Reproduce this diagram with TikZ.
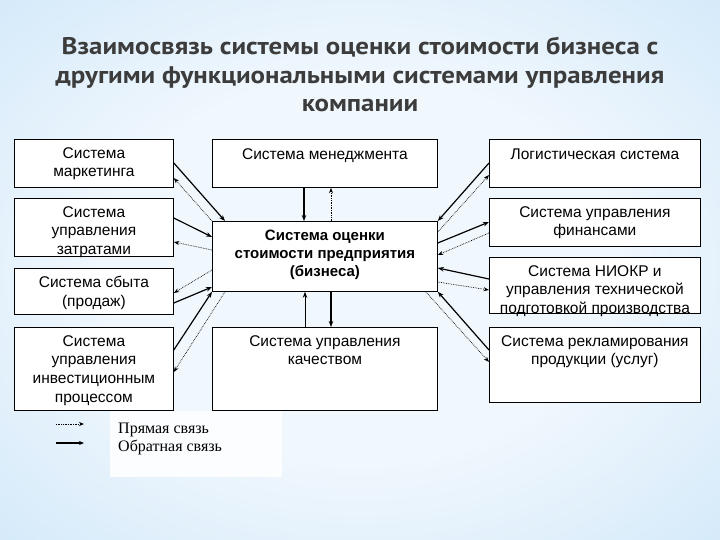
\documentclass[tikz,border=0pt]{standalone}
\usepackage{fontspec}
\setmainfont{Liberation Sans}
\newfontfamily\titlefont[FakeStretch=1.12]{PT Sans}
\newfontfamily\serifru{Liberation Serif}
\usetikzlibrary{arrows.meta}
\definecolor{bgout}{RGB}{130,188,236}
\definecolor{bgmid}{RGB}{198,227,248}
\definecolor{bgin}{RGB}{240,247,253}
\definecolor{titlegray}{RGB}{60,60,60}
\pgfdeclareradialshading{glow}{\pgfpoint{0bp}{0bp}}{color(0bp)=(bgin); color(18bp)=(bgin); color(45bp)=(bgmid); color(72bp)=(bgout)}
\begin{document}
\begin{tikzpicture}[x=1pt,y=-1pt,
  box/.style={draw=black, line width=0.8pt, fill=white, anchor=north west, inner sep=0pt},
  lbl/.style={font=\fontsize{15.5}{18.8}\selectfont, align=center, anchor=north, inner sep=0pt, execute at begin node=\rule{0pt}{12pt}},
  lblb/.style={lbl, font=\bfseries\fontsize{15}{18}\selectfont},
  fb/.style={line width=1.2pt, -{Stealth[length=6pt,width=4.5pt]}},
  fbthin/.style={line width=0.8pt, -{Stealth[length=6pt,width=4.5pt]}},
  dr/.style={line width=0.7pt, densely dotted, -{Stealth[length=5.5pt,width=4pt]}},
  legtxt/.style={font=\serifru\fontsize{16}{18}\selectfont, anchor=base west, inner sep=0pt}
]
\useasboundingbox (0,0) rectangle (720,540);
\shade[shading=glow] (0,0) rectangle (720,540);

% title
\node[font=\titlefont\bfseries\fontsize{24}{28.5}\selectfont, text=titlegray, align=center, anchor=north, inner sep=0pt,
  execute at begin node=\rule{0pt}{19pt}] (title) at (360,37)
  {Взаимосвязь системы оценки стоимости бизнеса с\\другими функциональными системами управления\\компании};

% boxes
\node[box, minimum width=159pt, minimum height=48pt] (mk) at (14,139) {};
\node[box, minimum width=159pt, minimum height=58pt] (zt) at (14,198) {};
\node[box, minimum width=159pt, minimum height=46pt] (sb) at (14,268) {};
\node[box, minimum width=159pt, minimum height=83pt] (iv) at (14,327) {};
\node[box, minimum width=225pt, minimum height=48pt] (mg) at (212,139) {};
\node[box, minimum width=225pt, minimum height=70pt] (ce) at (212,221) {};
\node[box, minimum width=225pt, minimum height=83pt] (kc) at (212,327) {};
\node[box, minimum width=211pt, minimum height=48pt] (lg) at (489,139) {};
\node[box, minimum width=211pt, minimum height=48pt] (fn) at (489,198) {};
\node[box, minimum width=211pt, minimum height=56pt] (nk) at (489,257) {};
\node[box, minimum width=211pt, minimum height=75pt] (rk) at (489,327) {};

% labels
\node[lbl] (mkt) at ([yshift=-8pt]mk.north) {Система\\маркетинга};
\node[lbl] (ztt) at ([yshift=-8pt]zt.north) {Система\\управления\\затратами};
\node[lbl] (sbt) at ([yshift=-8pt]sb.north) {Система сбыта\\(продаж)};
\node[lbl] (ivt) at ([yshift=-8pt]iv.north) {Система\\управления\\инвестиционным\\процессом};
\node[lbl] (mgt) at ([yshift=-8pt]mg.north) {Система менеджмента};
\node[lblb] (cet) at ([yshift=-9pt]ce.north) {Система оценки\\стоимости предприятия\\(бизнеса)};
\node[lbl] (kct) at ([yshift=-8pt]kc.north) {Система управления\\качеством};
\node[lbl] (lgt) at ([yshift=-8pt]lg.north) {Логистическая система};
\node[lbl] (fnt) at ([yshift=-8pt]fn.north) {Система управления\\финансами};
\node[lbl] (nkt) at ([yshift=-8pt]nk.north) {Система НИОКР и\\управления технической\\подготовкой производства};
\node[lbl] (rkt) at ([yshift=-8pt]rk.north) {Система рекламирования\\продукции (услуг)};

% left connectors
\draw[fb] ([yshift=-24pt]mk.north east) -- ([xshift=13pt]ce.north west);
\draw[dr] (ce.north west) -- ([yshift=-39pt]mk.north east);
\draw[fb] ([yshift=-20pt]zt.north east) -- ([yshift=-16pt]ce.north west);
\draw[dr] ([yshift=-29pt]ce.north west) -- ([yshift=-44pt]zt.north east);
\draw[dr] ([yshift=-49pt]ce.north west) -- ([yshift=-25pt]sb.north east);
\draw[fb] ([yshift=-35pt]sb.north east) -- ([yshift=-66pt]ce.north west);
\draw[fb] ([yshift=-23pt]iv.north east) -- (ce.south west);
\draw[dr] ([xshift=13pt]ce.south west) -- ([yshift=-45pt]iv.north east);
% top / bottom
\draw[fb] ([xshift=92pt]mg.south west) -- ([xshift=92pt]ce.north west);
\draw[dr] ([xshift=119pt]ce.north west) -- ([xshift=119pt]mg.south west);
\draw[fbthin] ([xshift=93pt]kc.north west) -- ([xshift=93pt]ce.south west);
\draw[fb] ([xshift=119pt]ce.south west) -- ([xshift=119pt]kc.north west);
% right connectors
\draw[fb] ([yshift=-24pt]lg.north west) -- (ce.north east);
\draw[dr] ([yshift=-11pt]ce.north east) -- ([yshift=-36pt]lg.north west);
\draw[fb] ([yshift=-22pt]ce.north east) -- ([yshift=-24pt]fn.north west);
\draw[dr] ([yshift=-35pt]fn.north west) -- ([yshift=-34pt]ce.north east);
\draw[fb] ([yshift=-22pt]nk.north west) -- ([yshift=-47pt]ce.north east);
\draw[dr] ([yshift=-61pt]ce.north east) -- ([yshift=-33pt]nk.north west);
\draw[fb] ([yshift=-23pt]rk.north west) -- (ce.south east);
\draw[dr] ([xshift=-12pt]ce.south east) -- ([yshift=-35pt]rk.north west);

% legend
\node[fill=white, fill opacity=0.85, minimum width=172pt, minimum height=66pt, anchor=north west, inner sep=0pt] (legbg) at (110,411) {};
\coordinate (l1a) at (56,424);
\coordinate (l1b) at (84,424);
\coordinate (l2a) at (56,443);
\coordinate (l2b) at (84,443);
\draw[line width=0.7pt, densely dotted, -{Stealth[length=5pt,width=4pt]}] (l1a) -- (l1b);
\draw[line width=1.2pt, -{Stealth[length=5pt,width=4pt]}] (l2a) -- (l2b);
\node[legtxt] (lt1) at (118,433) {Прямая связь};
\node[legtxt] (lt2) at (118,451) {Обратная связь};
\end{tikzpicture}
\end{document}
